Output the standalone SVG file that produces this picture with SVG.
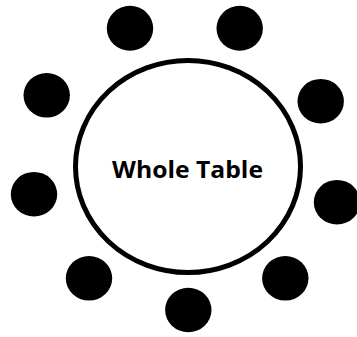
<svg xmlns="http://www.w3.org/2000/svg" width="357" height="337" viewBox="0 0 357 337">
<style>
.seat{fill:#000}
.table{fill:#fff;stroke:#000;stroke-width:5}
.label{font-family:"Open Sans","Liberation Sans",sans-serif;font-weight:bold;font-size:23px;fill:#000}
</style>
<rect width="357" height="337" fill="#fff"/>
<g id="table">
<ellipse class="table" cx="188" cy="166.5" rx="112.5" ry="106"/>
<text class="label" x="187.5" y="178.3" text-anchor="middle" textLength="151" lengthAdjust="spacingAndGlyphs">Whole Table</text>
</g>
<g id="seat1"><ellipse class="seat" cx="130" cy="28.3" rx="23.2" ry="22.5"/></g>
<g id="seat2"><ellipse class="seat" cx="239.7" cy="28.3" rx="23.2" ry="22.5"/></g>
<g id="seat3"><ellipse class="seat" cx="46.7" cy="95.3" rx="23.2" ry="22.3"/></g>
<g id="seat4"><ellipse class="seat" cx="320.7" cy="101.2" rx="23.2" ry="22.3"/></g>
<g id="seat5"><ellipse class="seat" cx="34" cy="194.2" rx="23.2" ry="22.3"/></g>
<g id="seat6"><ellipse class="seat" cx="337" cy="202.2" rx="23.2" ry="22.3"/></g>
<g id="seat7"><ellipse class="seat" cx="89" cy="278.3" rx="23.2" ry="22.3"/></g>
<g id="seat8"><ellipse class="seat" cx="285.3" cy="278.3" rx="23.2" ry="22.3"/></g>
<g id="seat9"><ellipse class="seat" cx="188.3" cy="310" rx="23.2" ry="22.3"/></g>
<g id="connectors"></g>
</svg>
